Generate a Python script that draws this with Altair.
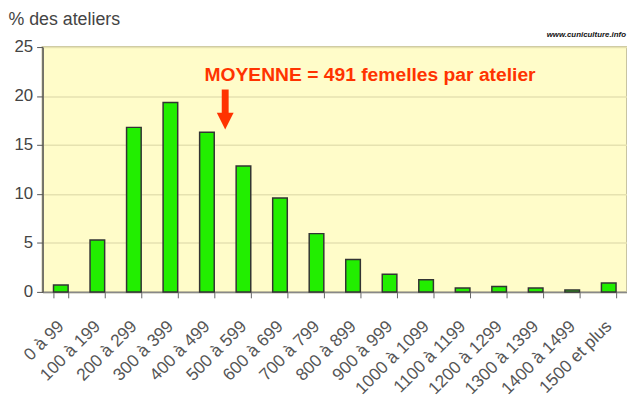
import altair as alt
import pandas as pd

categories = ["0 à 99", "100 à 199", "200 à 299", "300 à 399", "400 à 499",
              "500 à 599", "600 à 699", "700 à 799", "800 à 899", "900 à 999",
              "1000 à 1099", "1100 à 1199", "1200 à 1299", "1300 à 1399",
              "1400 à 1499", "1500 et plus"]
values = [0.7, 5.3, 16.8, 19.35, 16.3, 12.85, 9.6, 5.95, 3.3, 1.8,
          1.25, 0.4, 0.55, 0.4, 0.2, 0.9]
y_ticks = [0, 5, 10, 15, 20, 25]

annotation = "MOYENNE = 491 femelles par atelier"
watermark = "www.cuniculture.info"
y_title = "% des ateliers"

df = pd.DataFrame({"classe": categories, "pct": values})
one = pd.DataFrame({"a": [0]})

FONT = "Liberation Sans"
RED = "#ff3300"

bars = alt.Chart(df).mark_bar(
    color="#22ee00", stroke="#333333", strokeWidth=1.5
).encode(
    x=alt.X("classe:N", sort=categories, title=None,
            scale=alt.Scale(paddingInner=0.6, paddingOuter=0.3),
            axis=alt.Axis(labelAngle=-45, labelAlign="right", labelBaseline="middle",
                          labelFont=FONT, labelFontSize=17.5, labelColor="#555555",
                          labelPadding=26, tickBand="extent", tickSize=6,
                          tickColor="#666666", domainColor="#888888",
                          domainWidth=1.5, grid=False, labelOverlap=False)),
    y=alt.Y("pct:Q", title=y_title,
            scale=alt.Scale(domain=[0, 25], nice=False),
            axis=alt.Axis(values=y_ticks, labelFont=FONT, labelFontSize=17,
                          labelColor="#444444", labelPadding=4, tickSize=6,
                          tickColor="#555555", domainColor="#555555", domainWidth=1.5,
                          gridColor="#e6e2b0", gridWidth=1.5,
                          titleAngle=0, titleAlign="left", titleBaseline="alphabetic",
                          titleX=-35, titleY=-23, titleFont=FONT, titleFontSize=18,
                          titleFontWeight="normal", titleColor="#444444"))
)

label = alt.Chart(one).mark_text(
    text=annotation, font=FONT, fontSize=19.5, fontWeight="bold", color=RED,
    align="left", baseline="alphabetic"
).encode(x=alt.value(164), y=alt.value(34))

shaft = alt.Chart(one).mark_rule(color=RED, strokeWidth=7).encode(
    x=alt.value(185), y=alt.value(43), y2=alt.value(68))

head = alt.Chart(one).mark_point(
    shape="M -1 -1 L 1 -1 L 0 1 Z", filled=True, color=RED, opacity=1,
    size=290, strokeWidth=0
).encode(x=alt.value(185), y=alt.value(75))

wm = alt.Chart(one).mark_text(
    text=watermark, font=FONT, fontSize=8, fontWeight="bold", fontStyle="italic",
    color="#111111", align="right", baseline="alphabetic"
).encode(x=alt.value(591), y=alt.value(-10))

chart = alt.layer(bars, label, shaft, head, wm).properties(
    width=592, height=248,
    autosize=alt.AutoSizeParams(type="none"),
    padding={"left": 35, "top": 37, "right": 0, "bottom": 113},
    background="white"
).configure_view(
    fill="#fffcc9", stroke="#c8c4a0", strokeWidth=2
)

chart.save("out.html", embed_options={"renderer": "svg", "actions": False})
